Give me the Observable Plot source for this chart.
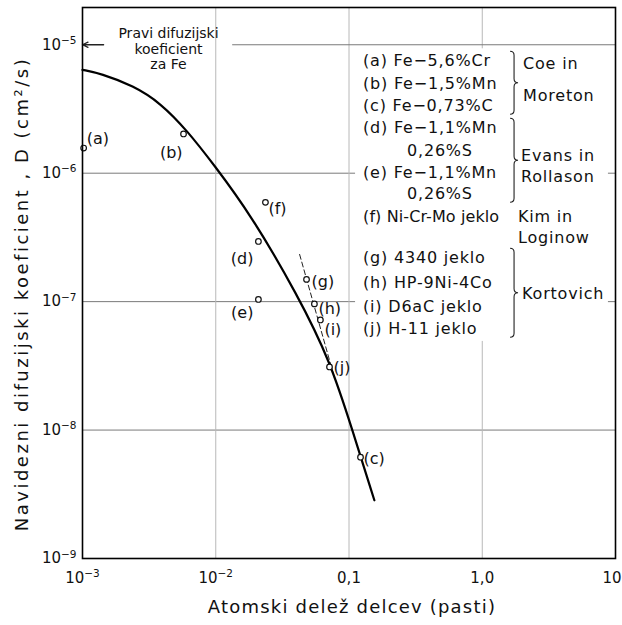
<!DOCTYPE html>
<html><head><meta charset="utf-8">
<script src="https://cdn.jsdelivr.net/npm/d3@7"></script>
<script src="https://cdn.jsdelivr.net/npm/@observablehq/plot@0.6"></script>
<style>body{margin:0;background:#fff} svg{display:block}</style>
</head><body><div id="chart"></div>
<script>
// ---- data ----
const pointLabels = ["a","b","c","d","e","f","g","h","i","j"];
const pointX = [0.00102, 0.00573, 0.122, 0.0209, 0.0209, 0.0236, 0.048, 0.055, 0.061, 0.0714];
const pointY = [1.57e-6, 2.02e-6, 6.15e-9, 2.94e-7, 1.04e-7, 5.93e-7, 1.49e-7, 9.6e-8, 7.2e-8, 3.1e-8];

const curveX = [0.001, 0.001365, 0.002415, 0.00385, 0.00614, 0.00962, 0.01824, 0.041, 0.0726, 0.106, 0.155];
const curveY = [6.38e-6, 5.98e-6, 4.79e-6, 3.52e-6, 2.13e-6, 1.175e-6, 4.79e-7, 1.135e-7, 3.4e-8, 1.0e-8, 2.84e-9];

const dashX = [0.0426, 0.0778];
const dashY = [2.33e-7, 2.55e-8];

const xTickValues = [1e-3, 1e-2, 0.1, 1, 10];
const xTickLabels = ["10^-3", "10^-2", "0,1", "1,0", "10"];
const yTickValues = [1e-9, 1e-8, 1e-7, 1e-6, 1e-5];
const yTickLabels = ["10^-9", "10^-8", "10^-7", "10^-6", "10^-5"];

const xTitle = "Atomski delež delcev (pasti)";
const yTitle = "Navidezni difuzijski koeficient , D (cm²/s)";
const noteText = "Pravi difuzijski\nkoeficient\nza Fe";
const noteY = 1e-5;               // true diffusion coefficient of Fe
const noteX = 0.00442;            // annotation text centre
const arrowFromX = 0.00144;       // arrow start (points to the axis)
const lineResumeX = 0.0134;       // 1e-5 line continues after the note

const legendRows = [
  "(a) Fe−5,6%Cr", "(b) Fe−1,5%Mn", "(c) Fe−0,73%C", "(d) Fe−1,1%Mn", "0,26%S",
  "(e) Fe−1,1%Mn", "0,26%S", "(f) Ni-Cr-Mo jeklo", "(g) 4340 jeklo",
  "(h) HP-9Ni-4Co", "(i) D6aC jeklo", "(j) H-11 jeklo"
];
const legendGroups = [
  {lines: ["Coe in", "Moreton"], rows: [0, 2]},
  {lines: ["Evans in", "Rollason"], rows: [3, 6]},
  {lines: ["Kim in", "Loginow"], rows: [7, 7]},
  {lines: ["Kortovich"], rows: [8, 11]}
];
const legendBox = {x1: 0.112, x2: 8.85, y1: 4.9e-8, y2: 9.3e-6};

// ---- build tables ----
const points = pointLabels.map((l, i) => ({label: `(${l})`, key: l, x: pointX[i], y: pointY[i]}));
const curve = curveX.map((x, i) => ({x, y: curveY[i]}));
const dash = dashX.map((x, i) => ({x, y: dashY[i]}));
const xFmt = new Map(xTickValues.map((v, i) => [v, xTickLabels[i]]));
const yFmt = new Map(yTickValues.map((v, i) => [v, yTickLabels[i]]));

// label placement (styles)
const labelPos = {
  a: {anchor: "start", dx: 3, dy: -9},
  b: {anchor: "end", dx: -1, dy: 19},
  c: {anchor: "start", dx: 3, dy: 2},
  d: {anchor: "end", dx: -5, dy: 17},
  e: {anchor: "end", dx: -5, dy: 13},
  f: {anchor: "start", dx: 3, dy: 7},
  g: {anchor: "start", dx: 5, dy: 2},
  h: {anchor: "start", dx: 4, dy: 5},
  i: {anchor: "start", dx: 4, dy: 10},
  j: {anchor: "start", dx: 4, dy: 1}
};

const FONT = "DejaVu Sans";
const labelMarks = points.map(p => Plot.text([p], {
  x: "x", y: "y", text: "label", textAnchor: labelPos[p.key].anchor,
  dx: labelPos[p.key].dx, dy: labelPos[p.key].dy, fontSize: 16, fill: "#111"
}));

const plot = Plot.plot({
  width: 622, height: 625,
  marginLeft: 82, marginRight: 7, marginTop: 7, marginBottom: 67,
  style: {fontFamily: FONT, fontSize: "15px", background: "white", color: "#111"},
  x: {type: "log", domain: [1e-3, 10], ticks: xTickValues, tickFormat: d => xFmt.get(d),
      tickSize: 0, tickPadding: 14, label: null},
  y: {type: "log", domain: [1e-9, 1.95e-5], ticks: yTickValues, tickFormat: d => yFmt.get(d),
      tickSize: 0, tickPadding: 6, label: null},
  marks: [
    Plot.ruleY(yTickValues.slice(1, -1), {stroke: "#7a7a7a", strokeWidth: 1}),
    Plot.ruleX(xTickValues.slice(1, -1), {stroke: "#b8b8b8", strokeWidth: 1}),
    Plot.ruleY([noteY], {x1: lineResumeX, x2: 10, stroke: "#7a7a7a", strokeWidth: 1}),
    Plot.arrow([{x1: arrowFromX, x2: 1e-3, y: noteY}], {x1: "x1", x2: "x2", y1: "y", y2: "y",
      stroke: "#222", strokeWidth: 1.3, headLength: 7, headAngle: 50}),
    Plot.text([{x: noteX, y: noteY, t: noteText}], {x: "x", y: "y", text: "t", dy: 4,
      fontSize: 14, lineHeight: 1.12, fill: "#111", lineAnchor: "middle", ariaLabel: "note"}),
    Plot.line(dash, {x: "x", y: "y", stroke: "#222", strokeWidth: 1, strokeDasharray: "5,3"}),
    Plot.line(curve, {x: "x", y: "y", curve: "basis", stroke: "#000", strokeWidth: 2.2}),
    Plot.dot(points, {x: "x", y: "y", r: 2.8, stroke: "#111", fill: "white", strokeWidth: 1.2}),
    ...labelMarks,
    Plot.frame({stroke: "#000", strokeWidth: 1.6})
  ]
});

const svg = d3.select(plot);
// superscript tick labels
svg.selectAll('g[aria-label="y-axis tick label"] text, g[aria-label="x-axis tick label"] text').each(function() {
  const t = this.textContent;
  if (t.includes("^")) {
    const [b, e] = t.split("^");
    const s = d3.select(this);
    s.text(null);
    s.append("tspan").text(b);
    s.append("tspan").attr("dy", "-0.55em").attr("font-size", "0.7em").text(e.replace("-", "−"));
  }
});
// keep the last x tick label inside the picture
const xl = svg.selectAll('g[aria-label="x-axis tick label"] text').nodes();
if (xl.length) d3.select(xl[xl.length - 1]).attr("text-anchor", "end").attr("dx", 6);
svg.selectAll('g[aria-label="note"] text').attr("letter-spacing", "0.8px");

const xs = plot.scale("x"), ys = plot.scale("y");
// axis titles
svg.append("text").attr("x", 352).attr("y", 613).attr("text-anchor", "middle")
  .attr("font-size", 18).attr("letter-spacing", "1.2px").attr("fill", "#111").text(xTitle);
svg.append("text").attr("transform", "translate(28,294) rotate(-90)").attr("text-anchor", "middle")
  .attr("font-size", 18).attr("letter-spacing", "2.5px").attr("fill", "#111").text(yTitle);

// legend box
const bx1 = xs.apply(legendBox.x1), bx2 = xs.apply(legendBox.x2);
const by1 = ys.apply(legendBox.y2), by2 = ys.apply(legendBox.y1);
const lg = svg.append("g").attr("font-size", 16).attr("letter-spacing", "0.8px")
  .attr("fill", "#111").attr("text-anchor", "start");
lg.append("rect").attr("x", bx1).attr("y", by1).attr("width", bx2 - bx1).attr("height", by2 - by1).attr("fill", "white");
const rowY = [12, 35, 57, 79, 102, 124, 145, 168, 209, 234, 258, 280];
legendRows.forEach((r, i) => {
  const indent = r.startsWith("(") ? 8 : 52;
  const t = lg.append("text").attr("x", bx1 + indent).attr("y", by1 + rowY[i]).attr("dy", "0.35em").text(r);
  if (r.length > 15) t.attr("letter-spacing", "0.1px");
});
const groupX = [168, 166, 163, 167];
const groupLineY = [[15, 47], [107, 128], [168, 189], [245]];
legendGroups.forEach((g, gi) => {
  const y0 = by1 + rowY[g.rows[0]] - 9, y1 = by1 + rowY[g.rows[1]] + 9;
  if (g.rows[0] !== g.rows[1]) {
    const x = bx1 + 155, w = 4, ym = (y0 + y1) / 2, r = 4;
    lg.append("path").attr("fill", "none").attr("stroke", "#222").attr("stroke-width", 1.1)
      .attr("d", `M${x},${y0} Q${x+w},${y0} ${x+w},${y0+r} L${x+w},${ym-r} Q${x+w},${ym} ${x+2*w},${ym} Q${x+w},${ym} ${x+w},${ym+r} L${x+w},${y1-r} Q${x+w},${y1} ${x},${y1}`);
  }
  g.lines.forEach((t, li) => {
    lg.append("text").attr("x", bx1 + groupX[gi]).attr("y", by1 + groupLineY[gi][li]).attr("dy", "0.35em").text(t);
  });
});

document.getElementById("chart").appendChild(plot);
</script>
</body></html>
